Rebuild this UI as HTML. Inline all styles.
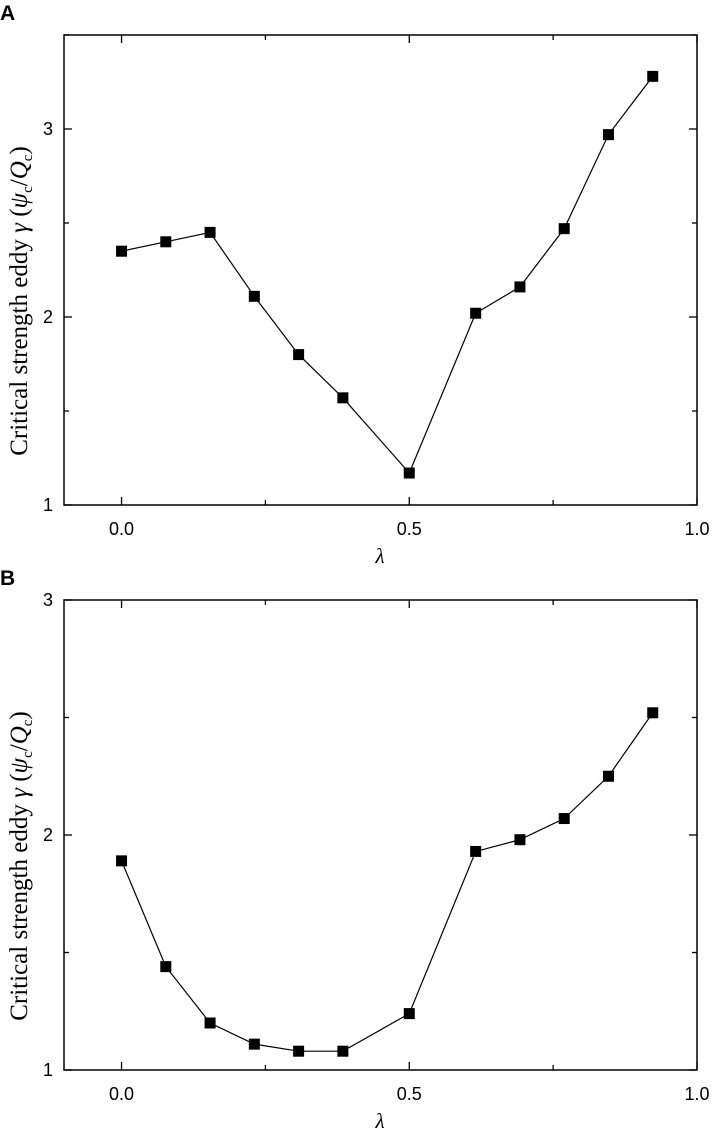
<!DOCTYPE html>
<html><head><meta charset="utf-8"><style>
body{margin:0;background:#fff;width:713px;height:1137px;overflow:hidden}
</style></head><body>
<svg id="chart" width="713" height="1137"></svg>
<script>
const xValues=[0,1/13,2/13,3/13,4/13,5/13,0.5,8/13,9/13,10/13,11/13,12/13];
const seriesA=[2.35,2.40,2.45,2.11,1.80,1.57,1.17,2.02,2.16,2.47,2.97,3.28];
const seriesB=[1.89,1.44,1.20,1.11,1.08,1.08,1.24,1.93,1.98,2.07,2.25,2.52];
const xTicks=["0.0","0.5","1.0"];
const yTicksA=[1,2,3];
const yTicksB=[1,2,3];
const NS="http://www.w3.org/2000/svg";
const svg=document.getElementById('chart');
const SANS='font-family:"Liberation Sans",sans-serif;';
const SERIF='font-family:"Liberation Serif",serif;';
function mk(tag,attrs,parent,txt){const e=document.createElementNS(NS,tag);for(const k in attrs)e.setAttribute(k,attrs[k]);if(txt!==undefined)e.textContent=txt;(parent||svg).appendChild(e);return e;}
function panel(letter,top,bottom,ymin,ymax,yTicks,data,pname){
  const L=64,R=697;
  const g=mk('g',{});
  
  
  const xs=v=>L+(v+0.1)/1.1*(R-L);
  const ys=v=>bottom-(v-ymin)/(ymax-ymin)*(bottom-top);
  const frame=mk('rect',{x:L,y:top,width:R-L,height:bottom-top,fill:'none',stroke:'#000','stroke-width':1.5},g);
  
  [0,0.25,0.5,0.75,1].forEach(v=>{
    const len=(v*2)%1===0?8:5;const x=xs(v);
    mk('line',{x1:x,x2:x,y1:bottom,y2:bottom-len,stroke:'#000','stroke-width':1.3},g);
    mk('line',{x1:x,x2:x,y1:top,y2:top+len,stroke:'#000','stroke-width':1.3},g);
  });
  xTicks.forEach(t=>{const tl=mk('text',{x:xs(parseFloat(t)),y:bottom+30,'text-anchor':'middle',style:SANS+'font-size:18px'},g,t);
    });
  for(let v=ymin;v<=ymax+1e-9;v+=0.5){const len=Number.isInteger(v)?8:5;const y=ys(v);
    mk('line',{x1:L,x2:L+len,y1:y,y2:y,stroke:'#000','stroke-width':1.3},g);
    mk('line',{x1:R,x2:R-len,y1:y,y2:y,stroke:'#000','stroke-width':1.3},g);}
  yTicks.forEach(t=>{const tl=mk('text',{x:L-11,y:ys(t)+6,'text-anchor':'end',style:SANS+'font-size:18px'},g,String(t));
    });
  const pts=xValues.map((x,i)=>[xs(x),ys(data[i])]);
  const line=mk('polyline',{points:pts.map(p=>p.join(',')).join(' '),fill:'none',stroke:'#000','stroke-width':1.2},g);
  
  pts.forEach(p=>{const m=mk('rect',{x:p[0]-5.5,y:p[1]-5.5,width:11,height:11,fill:'#000'},g);
    });
  const lab=mk('text',{x:0,y:top-15,style:SANS+'font-size:21px;font-weight:bold'},g,letter);
  
  const xt=mk('text',{x:380,y:bottom+58,'text-anchor':'middle',style:SERIF+'font-size:21px;font-style:italic'},g,'λ');
  
  const cy=(top+bottom)/2+31;
  const yt=mk('text',{transform:`translate(27,${cy}) rotate(-90)`,'text-anchor':'middle',style:SERIF+'font-size:25px'},g);
  
  yt.innerHTML='Critical strength eddy <tspan font-style="italic">γ</tspan> (<tspan font-style="italic">ψ</tspan><tspan font-size="15" dy="5">c</tspan><tspan dy="-5">/</tspan><tspan font-style="italic">Q</tspan><tspan font-size="15" dy="5">c</tspan><tspan dy="-5">)</tspan>';
}
panel('A',35,505,1,3.5,yTicksA,seriesA,'panel-a');
panel('B',600,1070,1,3,yTicksB,seriesB,'panel-b');
</script>
</body></html>
